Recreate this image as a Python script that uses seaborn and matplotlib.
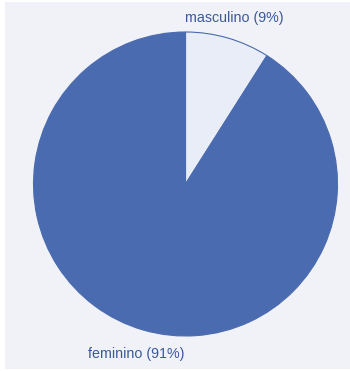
import matplotlib
matplotlib.use("Agg")
import matplotlib.pyplot as plt
from matplotlib.patches import Rectangle
import seaborn as sns

# Gender breakdown
categories = ["masculino", "feminino"]
shares = [9, 91]
colors = ["#e9edf7", "#4a6baf"]

sns.set_theme(style="white")
plt.rcParams["font.family"] = ["Liberation Sans", "DejaVu Sans"]

fig = plt.figure(figsize=(3.5, 3.71), dpi=100)
fig.patch.set_facecolor("white")
fig.patches.append(Rectangle((5 / 350, 2 / 371), 345 / 350, 367 / 371,
                             transform=fig.transFigure, facecolor="#f0f2f8",
                             edgecolor="none", zorder=-10))

ax = fig.add_axes([33.5 / 350, 35 / 371, 304 / 350, 304 / 371])
ax.set_zorder(1)
labels = [f"{c} ({v}%)" for c, v in zip(categories, shares)]
wedges, texts = ax.pie(shares, labels=labels, colors=colors, startangle=90,
                       counterclock=False, labeldistance=1.0,
                       wedgeprops=dict(edgecolor="#4a6baf", linewidth=0.8),
                       textprops=dict(color="#3b5998", fontsize=10.3))
# push each label out along its wedge's bisector
for t, dist in zip(texts, [1.14, 1.165]):
    x, y = t.get_position()
    t.set_position((x * dist, y * dist))
    t.set_horizontalalignment("center")
    t.set_verticalalignment("center")
ax.set_xlim(-1, 1)
ax.set_ylim(-1, 1)
ax.set_aspect("equal")
ax.axis("off")

fig.savefig("out.png", dpi=100, facecolor=fig.get_facecolor())
